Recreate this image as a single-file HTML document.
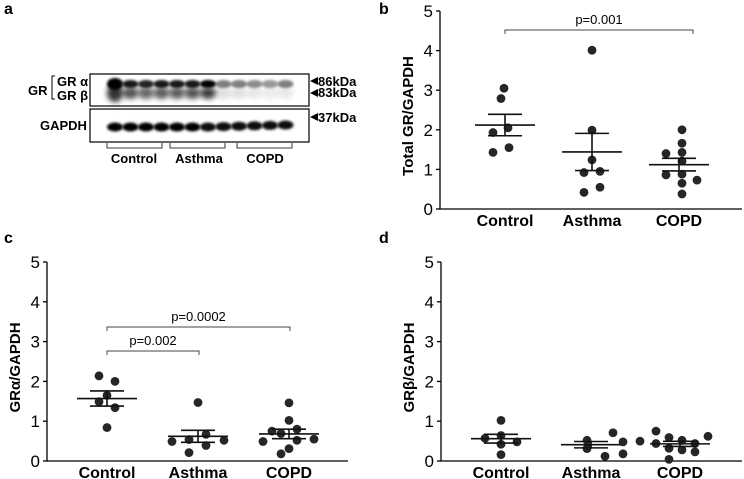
<!DOCTYPE html>
<html><head><meta charset="utf-8"><style>
body{margin:0;background:#fff;}
svg{display:block;font-family:"Liberation Sans",Arial,sans-serif;}
</style></head><body>
<svg id="fig" width="744" height="479" viewBox="0 0 744 479">
<defs>
<filter id="blur1" x="-50%" y="-50%" width="200%" height="200%"><feGaussianBlur stdDeviation="1.4"/></filter>
<filter id="blur2" x="-50%" y="-50%" width="200%" height="200%"><feGaussianBlur stdDeviation="2.6"/></filter>
</defs>
<g>
<text x="4" y="14" font-size="16" font-weight="bold">a</text>
<text x="28" y="95" font-size="13" font-weight="bold">GR</text>
<path d="M55,76 H52 V99 H55" fill="none" stroke="#000" stroke-width="1"/>
<text x="57" y="86" font-size="13" font-weight="bold">GR α</text>
<text x="57" y="100" font-size="13" font-weight="bold">GR β</text>
<text x="40" y="130" font-size="13" font-weight="bold">GAPDH</text>
<g id="blot"></g>
<rect x="90" y="74" width="219" height="32" fill="none" stroke="#000" stroke-width="1.2"/>
<rect x="90" y="109" width="219" height="33" fill="none" stroke="#000" stroke-width="1.2"/>
<polygon points="310,81 318,77 318,85" fill="#000"/>
<text x="318" y="86" font-size="13" font-weight="bold">86kDa</text>
<polygon points="310,93 318,89 318,97" fill="#000"/>
<text x="318" y="97" font-size="13" font-weight="bold">83kDa</text>
<polygon points="310,117 318,113 318,121" fill="#000"/>
<text x="318" y="122" font-size="13" font-weight="bold">37kDa</text>
<path d="M107,143 V148 H162 V143 M170,143 V148 H225 V143 M237,143 V148 H292 V143" fill="none" stroke="#000" stroke-width="0.8"/>
<text x="134" y="163" font-size="13" font-weight="bold" text-anchor="middle">Control</text>
<text x="199" y="163" font-size="13" font-weight="bold" text-anchor="middle">Asthma</text>
<text x="265" y="163" font-size="13" font-weight="bold" text-anchor="middle">COPD</text>
</g>
<g id="charts"></g>
</svg>
<script>
const NS="http://www.w3.org/2000/svg";
// Blot lane intensities (0..1)
const laneAlpha=[1,0.9,0.85,0.9,0.9,0.9,1,0.5,0.5,0.45,0.4,0.5];
const laneBeta=[1,0.85,0.75,0.8,0.8,0.85,0.95,0.15,0.15,0.12,0.1,0.12];
const laneGapdh=[1,1,1,1,1,1,0.95,0.95,0.95,0.95,0.95,0.95];

const categories=["Control","Asthma","COPD"];
// panel b: total GR/GAPDH
const bControl=[3.05,2.79,1.43,1.55,2.05,1.93];
const bAsthma=[4.01,1.99,1.24,0.92,0.95,0.42,0.55];
const bCopd=[2.0,1.66,1.40,1.43,1.21,0.86,0.88,0.73,0.65,0.38];
const bMean=[2.12,1.44,1.12];
const bSem=[0.27,0.47,0.16];
// panel c: GRalpha/GAPDH
const cControl=[2.14,2.0,1.49,1.34,0.84,1.65];
const cAsthma=[1.47,0.67,0.54,0.49,0.52,0.39,0.21];
const cCopd=[1.46,1.02,0.75,0.80,0.49,0.69,0.52,0.55,0.31,0.18];
const cMean=[1.57,0.62,0.68];
const cSem=[0.19,0.15,0.12];
// panel d: GRbeta/GAPDH
const dControl=[1.02,0.57,0.64,0.48,0.42,0.16];
const dAsthma=[0.71,0.52,0.50,0.48,0.31,0.18,0.12];
const dCopd=[0.75,0.62,0.59,0.52,0.44,0.44,0.32,0.28,0.23,0.04];
const dMean=[0.56,0.41,0.43];
const dSem=[0.11,0.08,0.065];
const yTicks=[0,1,2,3,4,5];

const fig=document.getElementById('fig');
function el(tag,attrs,parent){const e=document.createElementNS(NS,tag);for(const k in attrs)e.setAttribute(k,attrs[k]);(parent||fig).appendChild(e);return e;}

// blot
const blot=document.getElementById('blot');
const lane0=115,laneStep=15.5;
laneAlpha.forEach((v,i)=>{
  const x=lane0+i*laneStep;
  const b=el('ellipse',{cx:x,cy:93,rx:8,ry:i===0?9:6,fill:'#000','fill-opacity':laneBeta[i]*0.8,filter:'url(#blur2)'},blot);
  
  
  const a=el('ellipse',{cx:x,cy:84,rx:8,ry:i===0?6:4,fill:'#000','fill-opacity':v,filter:'url(#blur1)'},blot);
  
  
  const g=el('ellipse',{cx:x,cy:127-(i>=6?(i-6)*0.4:0),rx:8,ry:4.5,fill:'#000','fill-opacity':laneGapdh[i],filter:'url(#blur1)'},blot);
  
  
});

function chart(cfg){
  const g=el('g',{},document.getElementById('charts'));
  
  
  const y=v=>cfg.y0-(cfg.y0-cfg.y5)*v/5;
  const xc=i=>cfg.cx[i];
  const lab=el('text',{x:cfg.lx,y:cfg.ly,'font-size':16,'font-weight':'bold'},g);lab.textContent=cfg.letter;
  
  
  const ax=el('path',{d:`M${cfg.ax},${cfg.y5} V${cfg.y0} H${cfg.xend}`,fill:'none',stroke:'#000','stroke-width':1.3},g);
  
  
  yTicks.forEach(t=>{
    const tk=el('line',{x1:cfg.ax-4,x2:cfg.ax,y1:y(t),y2:y(t),stroke:'#000','stroke-width':1.3},g);
    
    
    const tl=el('text',{x:cfg.ax-7,y:y(t)+6,'font-size':17,'text-anchor':'end'},g);tl.textContent=t;
    
    
  });
  const yt=el('text',{x:0,y:0,'font-size':15,'font-weight':'bold','text-anchor':'middle',transform:`translate(${cfg.ax-27},${(cfg.y0+cfg.y5)/2+6}) rotate(-90)`},g);
  yt.textContent=cfg.title;
  
  
  categories.forEach((c,i)=>{
    const t=el('text',{x:xc(i),y:cfg.y0+17,'font-size':16,'font-weight':'bold','text-anchor':'middle'},g);t.textContent=c;
    
    
  });
  cfg.series.forEach((vals,i)=>{
    vals.forEach((v,j)=>{
      const d=el('circle',{cx:xc(i)+cfg.jit[i][j],cy:y(v),r:4.4,fill:'#262626'},g);
      
      
    });
    const m=cfg.mean[i],s=cfg.sem[i];
    const ml=el('line',{x1:xc(i)-30,x2:xc(i)+30,y1:y(m),y2:y(m),stroke:'#111','stroke-width':1.6},g);
    
    
    const eb=el('path',{d:`M${xc(i)},${y(m+s)} V${y(m-s)} M${xc(i)-17},${y(m+s)} H${xc(i)+17} M${xc(i)-17},${y(m-s)} H${xc(i)+17}`,fill:'none',stroke:'#111','stroke-width':1.6},g);
    
    
  });
  (cfg.sig||[]).forEach(s=>{
    const x1=xc(s.a),x2=xc(s.b)+s.ext;
    const p=el('path',{d:`M${x1},${s.y+4} V${s.y} H${x2} V${s.y+4}`,fill:'none',stroke:'#444','stroke-width':1},g);
    
    
    const t=el('text',{x:(x1+x2)/2,y:s.y-6,'font-size':13,'text-anchor':'middle'},g);t.textContent=s.label;
    
    
  });
}
const J6=[-1,-4,-12,4,3,-12],J7=[0,0,0,-8,8,-8,8],J10=[3,3,-13,3,3,-13,3,18,3,3];
chart({name:'panel-b-total-gr',letter:'b',lx:379,ly:14,ax:440,y0:209,y5:11,xend:742,cx:[505,592,679],title:'Total GR/GAPDH',
  series:[bControl,bAsthma,bCopd],mean:bMean,sem:bSem,jit:[J6,J7,J10],
  sig:[{a:0,b:2,y:30,ext:14,label:'p=0.001'}]});
chart({name:'panel-c-gr-alpha',letter:'c',lx:4,ly:243,ax:47,y0:461,y5:262,xend:348,cx:[107,198,289],title:'GRα/GAPDH',
  series:[cControl,cAsthma,cCopd],mean:cMean,sem:cSem,
  jit:[[-8,8,-8,8,0,0],[0,8,-9,-26,26,8,-9],[0,0,-17,8,-26,-8,8,25,0,-8]],
  sig:[{a:0,b:1,y:351,ext:1,label:'p=0.002'},{a:0,b:2,y:327,ext:1,label:'p=0.0002'}]});
chart({name:'panel-d-gr-beta',letter:'d',lx:379,ly:243,ax:441,y0:461,y5:262,xend:742,cx:[501,591,680],title:'GRβ/GAPDH',
  series:[dControl,dAsthma,dCopd],mean:dMean,sem:dSem,
  jit:[[0,-16,0,16,0,0],[22,-4,49,32,-4,32,14],[-24,28,-11,2,-24,15,-11,2,15,-11]]});
</script>
</body></html>
